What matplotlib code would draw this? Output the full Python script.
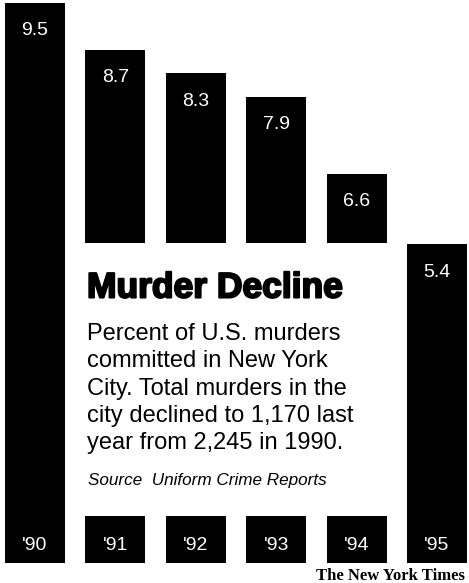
import matplotlib.pyplot as plt
import matplotlib.patheffects as pe
from matplotlib.patches import Rectangle

years = ["'90", "'91", "'92", "'93", "'94", "'95"]
share = [9.5, 8.7, 8.3, 7.9, 6.6, 5.4]

title = "Murder Decline"
blurb = ("Percent of U.S. murders\n"
         "committed in New York\n"
         "City. Total murders in the\n"
         "city declined to 1,170 last\n"
         "year from 2,245 in 1990.")
source = "Source  Uniform Crime Reports"
credit = "The New York Times"

plt.rcParams['font.family'] = ['Liberation Sans', 'DejaVu Sans']

fig = plt.figure(figsize=(4.69, 5.83), dpi=100)
ax = fig.add_axes([0, 0, 1, 1])
# pixel based limits: bar centres 80.4 px apart, 59 px per percent
ax.set_xlim(-35 / 80.4, (469 - 35) / 80.4)
ax.set_ylim(-20 / 59, 563 / 59)
ax.axis('off')

x = range(len(years))
ax.bar(x, share, width=60 / 80.4, color='black', zorder=1)

for i, v in enumerate(share):
    ax.text(i, v - 28 / 59, f"{v}", color='white', ha='center', va='center',
            fontsize=14, zorder=3)
    ax.text(i, 18 / 59, years[i], color='white', ha='center', va='center',
            fontsize=14, zorder=3)

# white panel that hides the middle bars
ax.add_patch(Rectangle((0.45, 47 / 59), 4.1, (516 - 243) / 59,
                       facecolor='white', edgecolor='none', zorder=2))

fig.text(87 / 469, 1 - 288 / 583, title, fontsize=25.5, fontweight='heavy',
         ha='left', va='center', zorder=4,
         path_effects=[pe.withStroke(linewidth=1.5, foreground='black')])
fig.text(87 / 469, 1 - 323 / 583, blurb, fontsize=17, ha='left', va='top',
         linespacing=1.31, zorder=4)
fig.text(88 / 469, 1 - 481 / 583, source, fontsize=12.3, style='italic',
         ha='left', va='center', zorder=4)
fig.text(465 / 469, 1 - 576 / 583, credit, fontsize=12, fontweight='bold',
         family='Liberation Serif', ha='right', va='center')

fig.savefig('out.png', dpi=100)
